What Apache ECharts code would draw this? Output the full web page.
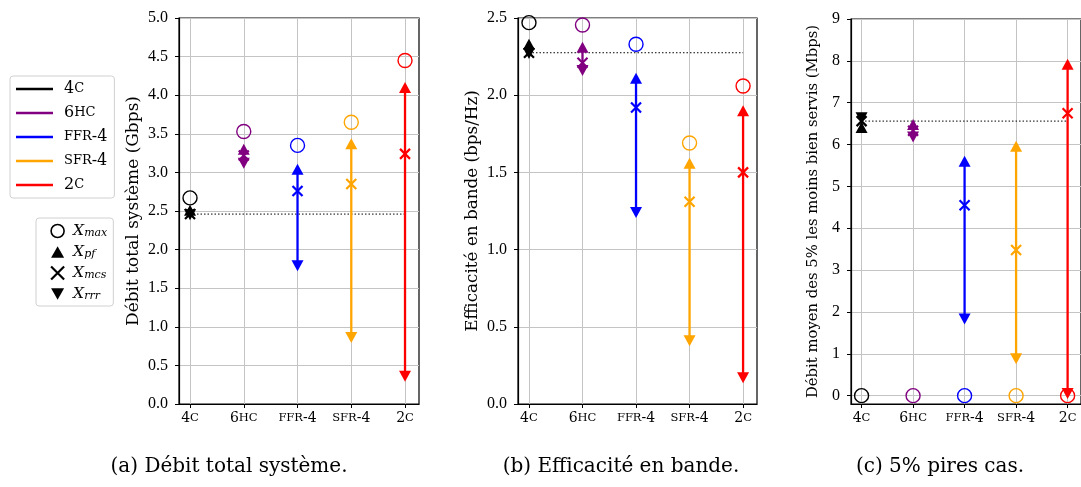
<!DOCTYPE html>
<html>
<head>
<meta charset="utf-8">
<script src="https://cdn.jsdelivr.net/npm/echarts@6/dist/echarts.min.js"></script>
<style>
html, body { margin: 0; padding: 0; background: #fff; }
#chart { width: 1081px; height: 487px; }
</style>
</head>
<body>
<div id="chart"></div>
<script>
// schémas comparés
var schemes = ['4C', '6HC', 'FFR-4', 'SFR-4', '2C'];
var colors = ['#000000', '#800080', '#0000ff', '#ffa500', '#ff0000'];

// (a) débit total système (Gbps)
var debitMax = [2.67, 3.53, 3.35, 3.65, 4.45];
var debitPf  = [2.51, 3.30, 3.04, 3.37, 4.10];
var debitMcs = [2.46, 3.22, 2.76, 2.85, 3.24];
var debitRrr = [2.45, 3.12, 1.79, 0.86, 0.36];

// (b) efficacité en bande (bps/Hz)
var effMax = [2.47, 2.455, 2.33, 1.69, 2.06];
var effPf  = [2.33, 2.31, 2.11, 1.56, 1.90];
var effMcs = [2.275, 2.21, 1.92, 1.31, 1.50];
var effRrr = [2.27, 2.16, 1.24, 0.41, 0.17];

// (c) 5% pires cas (Mbps)
var pireMax = [0, 0, 0, 0, 0];
var pirePf  = [6.41, 6.48, 5.60, 5.96, 7.92];
var pireMcs = [6.56, 6.33, 4.55, 3.48, 6.75];
var pireRrr = [6.64, 6.18, 1.83, 0.88, 0.05];

var yTicksA = [0, 0.5, 1, 1.5, 2, 2.5, 3, 3.5, 4, 4.5, 5];
var yTicksB = [0, 0.5, 1, 1.5, 2, 2.5];
var yTicksC = [0, 1, 2, 3, 4, 5, 6, 7, 8, 9];

var serif = 'DejaVu Serif';
var xPos = [0, 1, 2, 3, 4];
var crossPath = 'path://M0 0L10 10M10 0L0 10';
var downPath = 'path://M0 0L10 0L5 9Z';
var upPath = 'path://M5 0L10 9L0 9Z';

// petites capitales : lettres en plus petit
function smallCaps(s) {
    return s.replace(/([A-Z]+)|([^A-Z]+)/g, function (m, up, other) {
        return up ? '{s|' + up + '}' : '{n|' + other + '}';
    });
}
var capsRich = {
    n: { fontFamily: serif, fontSize: 14, color: '#000' },
    s: { fontFamily: serif, fontSize: 11.5, color: '#000' }
};

var grids = [
    { left: 179, top: 18, width: 240, height: 386 },
    { left: 518, top: 18, width: 239, height: 386 },
    { left: 851, top: 19, width: 240, height: 385 }
];
grids.forEach(function (g) {
    g.show = true;
    g.borderColor = '#000';
    g.borderWidth = 1.2;
    g.backgroundColor = 'transparent';
});

var panels = [
    { max: debitMax, pf: debitPf, mcs: debitMcs, rrr: debitRrr },
    { max: effMax, pf: effPf, mcs: effMcs, rrr: effRrr },
    { max: pireMax, pf: pirePf, mcs: pireMcs, rrr: pireRrr }
];

var xAxes = [0, 1, 2].map(function (i) {
    return {
        type: 'value', gridIndex: i, min: -0.205, max: 4.26,
        axisLine: { show: true, onZero: false, lineStyle: { color: '#000', width: 1.2 } },
        axisTick: { show: true, length: 4, customValues: xPos, lineStyle: { color: '#000' } },
        axisLabel: {
            customValues: xPos, margin: 7,
            formatter: function (v) { return smallCaps(schemes[Math.round(v)]); },
            rich: capsRich
        },
        splitLine: { show: true, lineStyle: { color: '#c4c4c4', width: 1 } }
    };
});

function yAxis(i, min, max, ticks, name, gap, digits, size) {
    return {
        type: 'value', gridIndex: i, min: min, max: max,
        name: name, nameLocation: 'middle', nameGap: gap,
        nameTextStyle: { fontFamily: serif, fontSize: size, color: '#000' },
        axisLine: { show: true, onZero: false, lineStyle: { color: '#000', width: 1.2 } },
        axisTick: { show: true, length: 4, customValues: ticks, lineStyle: { color: '#000' } },
        axisLabel: {
            customValues: ticks, margin: 11,
            fontFamily: 'Liberation Serif', fontSize: 16, color: '#000',
            formatter: function (v) { return v.toFixed(digits); }
        },
        splitLine: { show: true, lineStyle: { color: '#c4c4c4', width: 1 } }
    };
}
var yAxes = [
    yAxis(0, 0, 5, yTicksA, 'Débit total système (Gbps)', 37, 1, 17),
    yAxis(1, 0, 2.5, yTicksB, 'Efficacité en bande (bps/Hz)', 37, 1, 16.8),
    yAxis(2, -0.2, 9, yTicksC, 'Débit moyen des 5% les moins bien servis (Mbps)', 30, 0, 14.8)
];

var series = [];
panels.forEach(function (p, k) {
    // ligne de référence : MCS du schéma 4C
    series.push({
        type: 'line', xAxisIndex: k, yAxisIndex: k, silent: true, symbol: 'none',
        data: [[0, p.mcs[0]], [4, p.mcs[0]]],
        lineStyle: { color: '#000', width: 1, type: [1.5, 2] }, z: 3
    });
    schemes.forEach(function (s, i) {
        series.push({
            name: s, type: 'line', xAxisIndex: k, yAxisIndex: k, silent: true,
            symbol: 'none', color: colors[i],
            data: [[i, p.rrr[i]], [i, p.pf[i]]],
            lineStyle: { color: colors[i], width: 2.3 }, z: 4
        });
    });
    var defs = [
        { name: 'Xpf', key: 'pf', symbol: upPath, size: [12, 11], fill: true },
        { name: 'Xrrr', key: 'rrr', symbol: downPath, size: [12, 11], fill: true },
        { name: 'Xmcs', key: 'mcs', symbol: crossPath, size: 10, fill: false },
        { name: 'Xmax', key: 'max', symbol: 'circle', size: 14, fill: false }
    ];
    defs.forEach(function (d) {
        series.push({
            name: d.name, type: 'scatter', xAxisIndex: k, yAxisIndex: k, silent: true,
            symbol: d.symbol, symbolSize: d.size, z: 5,
            itemStyle: { opacity: 1 },
            data: p[d.key].map(function (v, i) {
                return {
                    value: [i, v],
                    itemStyle: d.fill
                        ? { color: colors[i], opacity: 1 }
                        : { color: 'transparent', opacity: 1, borderColor: colors[i], borderWidth: d.symbol === 'circle' ? 1.4 : 2.2 }
                };
            })
        });
    });
});

var markerLabel = {
    Xmax: '{x|X}{b|max}', Xpf: '{x|X}{b|pf}', Xmcs: '{x|X}{b|mcs}', Xrrr: '{x|X}{b|rrr}'
};

var chart = echarts.init(document.getElementById('chart'), null, { renderer: 'canvas' });
chart.setOption({
    animation: false,
    grid: grids,
    xAxis: xAxes,
    yAxis: yAxes,
    legend: [
        {
            orient: 'vertical', left: 10, top: 76,
            padding: [5, 7, 5, 6], itemGap: 8,
            itemWidth: 37, itemHeight: 2.5,
            borderColor: '#d0d0d0', borderWidth: 1, borderRadius: 3,
            selectedMode: false,
            data: schemes.map(function (s) { return { name: s, icon: 'rect' }; }),
            formatter: function (name) { return '{g|}' + smallCaps(name); },
            textStyle: {
                lineHeight: 16,
                rich: {
                    g: { width: 6 },
                    n: { fontFamily: serif, fontSize: 16, color: '#000' },
                    s: { fontFamily: serif, fontSize: 13, color: '#000' }
                }
            }
        },
        {
            orient: 'vertical', left: 36, top: 218,
            padding: [5, 6, 4, 14], itemGap: 5,
            itemWidth: 13, itemHeight: 13,
            borderColor: '#d0d0d0', borderWidth: 1, borderRadius: 3,
            selectedMode: false,
            data: [
                { name: 'Xmax', icon: 'circle', itemStyle: { color: 'transparent', borderColor: '#000', borderWidth: 1.6 } },
                { name: 'Xpf', icon: upPath, itemStyle: { color: '#000' } },
                { name: 'Xmcs', icon: crossPath, itemStyle: { color: 'transparent', borderColor: '#000', borderWidth: 2.2 } },
                { name: 'Xrrr', icon: downPath, itemStyle: { color: '#000' } }
            ],
            formatter: function (name) { return '{g|}' + markerLabel[name]; },
            textStyle: {
                rich: {
                    g: { width: 4 },
                    x: { fontFamily: serif, fontStyle: 'italic', fontSize: 15.5, color: '#000', verticalAlign: 'bottom', lineHeight: 16 },
                    b: { fontFamily: serif, fontStyle: 'italic', fontSize: 11, color: '#000', verticalAlign: 'bottom', lineHeight: 10 }
                }
            }
        }
    ],
    graphic: [
        { type: 'text', x: 229, y: 467, style: { text: '(a) Débit total système.', font: '20px "DejaVu Serif"', fill: '#000', textAlign: 'center', textVerticalAlign: 'middle' } },
        { type: 'text', x: 621, y: 467, style: { text: '(b) Efficacité en bande.', font: '20px "DejaVu Serif"', fill: '#000', textAlign: 'center', textVerticalAlign: 'middle' } },
        { type: 'text', x: 940, y: 467, style: { text: '(c) 5% pires cas.', font: '20px "DejaVu Serif"', fill: '#000', textAlign: 'center', textVerticalAlign: 'middle' } }
    ],
    series: series
});
</script>
</body>
</html>
